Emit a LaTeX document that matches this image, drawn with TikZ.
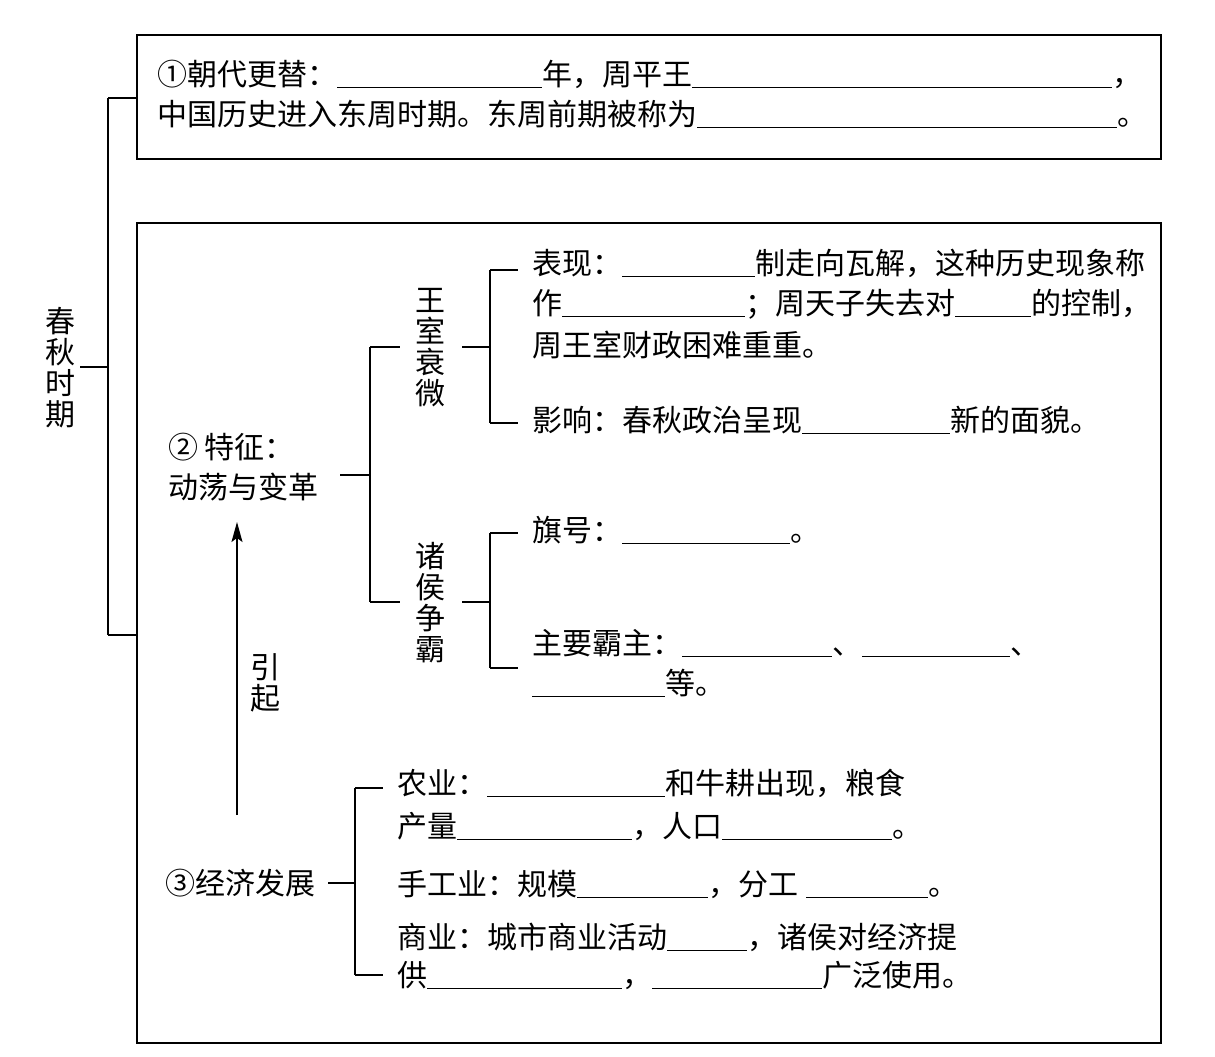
\documentclass[tikz,border=0pt]{standalone}
\usepackage{fontspec}
\newfontfamily\cjk{Noto Sans CJK SC}
\usetikzlibrary{arrows.meta}
\newcommand\blank[1]{\rule[-3pt]{#1pt}{1pt}}
\begin{document}
\begin{tikzpicture}[x=1pt,y=-1pt,
  txt/.style={anchor=base west, inner sep=0pt, font=\cjk\fontsize{30}{36}\selectfont},
  vtxt/.style={anchor=center, inner sep=0pt, align=center, font=\cjk\fontsize{30}{31}\selectfont},
  boxline/.style={line width=1.8pt},
  brk/.style={line width=1.6pt},
  arr/.style={line width=1.6pt,-{Stealth[length=20pt,width=11pt,inset=4pt]}}]
\useasboundingbox (0,0) rectangle (1215,1057);
% boxes
\node[boxline,draw,minimum width=1024pt,minimum height=124pt,inner sep=0pt,anchor=north west] (topbox) at (136,34) {};
\node[boxline,draw,minimum width=1024pt,minimum height=820pt,inner sep=0pt,anchor=north west] (botbox) at (136,222) {};
% left root
\node[vtxt] (root) at (60,368) {春\\秋\\时\\期};
\coordinate (rA) at (80,367);
\coordinate (rB) at (108,367);
\coordinate (rT) at (108,98);
\coordinate (rD) at (108,635);
\draw[brk] (rA) -- (rB);
\draw[brk] (rT) -- (rD);
\draw[brk] (rT) -- (topbox.west |- rT);
\draw[brk] (rD) -- (botbox.west |- rD);
% top box text
\node[txt] (t1) at (157,85) {①朝代更替：\blank{205}年，周平王\blank{420}，};
\node[txt] (t2) at (157,125) {中国历史进入东周时期。东周前期被称为\blank{420}。};
% feature
\node[txt] (f1) at (168,458) {② 特征：};
\node[txt] (f2) at (168,498) {动荡与变革};
\coordinate (fA) at (340,475);
\coordinate (fB) at (370,475);
\coordinate (fT) at (370,347);
\coordinate (fD) at (370,602);
\draw[brk] (fA) -- (fB);
\draw[brk] (fT) -- (fD);
\draw[brk] (fT) -- (400,347);
\draw[brk] (fD) -- (400,602);
% 王室衰微
\node[vtxt] (ws) at (430,348) {王\\室\\衰\\微};
\coordinate (wA) at (462,347);
\coordinate (wT) at (490,270);
\coordinate (wD) at (490,423);
\draw[brk] (wA) -- (wA -| wT);
\draw[brk] (wT) -- (wD);
\draw[brk] (wT) -- (518,270);
\draw[brk] (wD) -- (518,423);
\node[txt] (w1) at (532,274) {表现：\blank{133}制走向瓦解，这种历史现象称};
\node[txt] (w2) at (532,314) {作\blank{183}；周天子失去对\blank{76}的控制，};
\node[txt] (w3) at (532,356) {周王室财政困难重重。};
\node[txt] (w4) at (532,431) {影响：春秋政治呈现\blank{148}新的面貌。};
% 诸侯争霸
\node[vtxt] (zh) at (430,603) {诸\\侯\\争\\霸};
\coordinate (zA) at (462,602);
\coordinate (zT) at (490,533);
\coordinate (zD) at (490,668);
\draw[brk] (zA) -- (zA -| zT);
\draw[brk] (zT) -- (zD);
\draw[brk] (zT) -- (518,533);
\draw[brk] (zD) -- (518,668);
\node[txt] (z1) at (532,541) {旗号：\blank{168}。};
\node[txt] (z2) at (532,654) {主要霸主：\blank{150}、\blank{148}、};
\node[txt] (z3) at (532,694) {\blank{133}等。};
% economy
\node[txt] (e0) at (165,894) {③经济发展};
\coordinate (eA) at (328,883);
\coordinate (eT) at (355,788);
\coordinate (eD) at (355,975);
\draw[brk] (eA) -- (eA -| eT);
\draw[brk] (eT) -- (eD);
\draw[brk] (eT) -- (383,788);
\draw[brk] (eD) -- (383,975);
\node[txt] (e1) at (397,794) {农业：\blank{178}和牛耕出现，粮食};
\node[txt] (e2) at (397,837) {产量\blank{175}，人口\blank{170}。};
\node[txt] (e3) at (397,895) {手工业：规模\blank{131}，分工\hspace{8pt}\blank{122}。};
\node[txt] (e4) at (397,948) {商业：城市商业活动\blank{80}，诸侯对经济提};
\node[txt] (e5) at (397,986) {供\blank{195}，\blank{170}广泛使用。};
% arrow
\coordinate (aS) at (237,815);
\coordinate (aE) at (237,522);
\draw[arr] (aS) -- (aE);
\node[vtxt] (yq) at (265,683) {引\\起};
\end{tikzpicture}
\end{document}
